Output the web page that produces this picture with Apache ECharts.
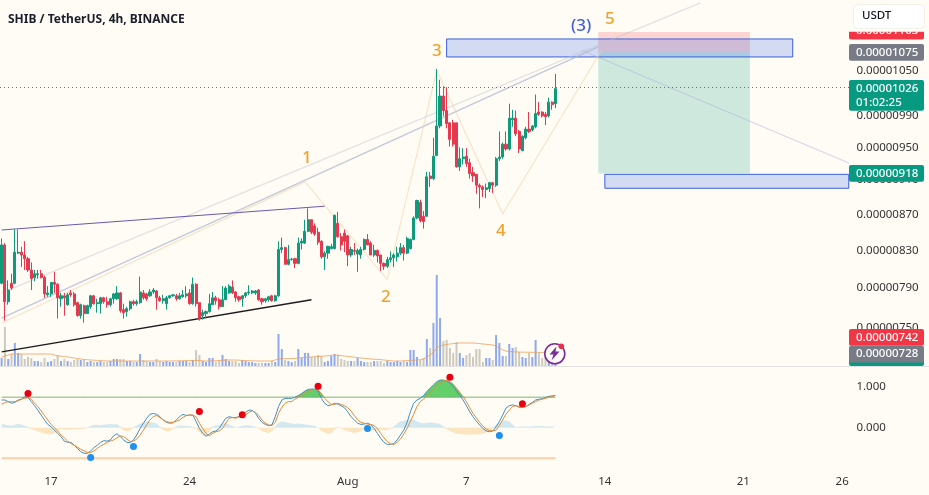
<!DOCTYPE html>
<html>
<head>
<meta charset="utf-8">
<style>
    html, body { margin: 0; padding: 0; background: #fffcf5; }
    #main { width: 929px; height: 495px; }
</style>
<script src="https://cdn.jsdelivr.net/npm/echarts@6/dist/echarts.min.js"></script>
</head>
<body>
<div id="main"></div>
<script>
// prices in units of 0.00000001 USDT, one entry per 4h candle
var opens = [
    795,836,776,795,795,827,828,825,821,809,
    801,804,805,801,783,784,796,794,779,782,
    773,785,784,775,762,772,764,771,782,774,
    774,780,776,773,779,779,785,768,766,769,
    776,774,775,785,784,782,786,787,780,777,
    774,780,782,782,779,781,782,785,774,794,
    775,762,764,766,773,780,778,771,778,785,
    791,786,781,779,782,785,785,785,788,779,
    777,778,782,777,782,831,833,815,820,821,
    816,838,838,851,864,857,850,840,823,827,
    832,832,860,845,849,846,825,830,826,825,
    831,842,838,825,830,825,816,813,820,822,
    823,827,833,827,832,842,866,884,868,868,
    915,912,940,977,1016,997,981,981,981,926,
    936,939,931,919,917,904,902,899,900,907,
    904,936,938,954,948,985,987,970,946,962,
    973,972,976,995,995,992,990,1008,1006
];
var closes = [
    836,776,788,790,828,828,825,821,809,800,
    805,805,801,784,785,796,794,780,782,780,
    783,783,773,762,773,764,772,782,774,775,
    780,776,773,779,784,785,767,765,769,776,
    774,776,786,780,779,786,788,780,777,779,
    780,782,783,779,782,783,784,774,794,774,
    759,765,766,774,780,777,771,778,790,792,
    785,780,778,782,785,786,787,787,778,776,
    779,781,777,782,831,833,815,820,820.5,816,
    838,840,851,864,850,848,839,823,827,834.5,
    834,869,845,836,840,825,831,829,830,831,
    842,836,825,830,824,816,813,820,822,825,
    827,833,827,843,842,866,886,863,862,914,
    912,939,977,1016,997,980,960,954,926,936,
    938,930,918,915,904,902,899,901,907,904,
    936,938,954,948,987,987,967,948,964,973,
    970,977,993,992,990,989,1008,1005,1026
];
var lows = [
    794,757,773,788,794,826,812,809,807,788,
    797,800,800,780,781,781,785,759,771,762,
    772,781,771,761,759,755,764,769,773,765,
    764,774,770,771,774,778,765,759,761,767,
    772,772,774,778,777,781,784,768,776,774,
    768,779,781,777,778,780,780,773,773,771,
    757,758,759,765,773,773,768,771,778,784,
    784,776,776,771,780,783,784,783,777,773,
    775,776,776,776,781,827,815,814,819,811,
    815,831,837,850,848,846,836,821,809,821,
    831,831,844,830,828,813,823,825,807,821,
    830,836,825,823,817,808,809,811,817,812,
    818,825,819,826,831,841,865,861,854,867,
    902,910,939,974,990,974,951,951,925,921,
    929,926,912,908,894,877,890,889,896,895,
    902,933,936,946,946,976,964,943,945,960,
    968,970,974,990,988,978,988,998,1000
];
var highs = [
    843,838,798,805,853,853,834,840,823,817,
    809,809,809,803,792,796,807,795,785,785,
    785,788,786,776,774,773,773,783,783,779,
    781,781,781,780,785,792,786,774,771,777,
    778,778,802,788,785,789,790,788,782,783,
    782,783,784,784,785,788,792,789,801,795,
    775,768,767,784,786,782,780,792,792,794,
    798,787,782,783,786,793,788,788,789,780,
    780,782,783,783,840,844,834,836,822,822,
    844,843,864,877,864,860,855,841,829,835,
    837,870,873,849,853,847,834,838,832,834,
    843,848,840,836,831,825,817,823,829,827,
    834,838,836,845,843,868,887,887,874,920,
    920,962,1053,1038,1029,1028,982,985,981,950,
    949,949,936,926,917,906,904,906,908,908,
    938,970,956,970,1006,998,997,972,965,976,
    995,978,1018,1008,996,995,1014,1009,1046
];
var volumes = [
    8,39,7,12,23,13,12,7,9,8,
    5,5,4,8,4,5,7,11,5,7,
    5,4,6,7,6,6,4,5,4,4,
    5,4,4,5,7,7,7,7,5,5,
    4,4,12,6,5,4,4,7,5,4,
    5,4,4,4,5,5,5,4,6,16,
    11,5,4,8,8,4,5,11,7,5,
    5,5,3,6,5,4,4,3,3,3,
    3,3,5,4,32,17,6,5,4,5,
    17,8,13,13,9,9,11,10,4,5,
    10,12,11,7,6,5,5,5,8,5,
    4,4,4,5,5,5,3,5,4,4,
    5,4,5,4,16,16,9,6,8,27,
    18,43,91,48,25,26,18,13,24,13,
    8,11,13,9,17,17,4,8,8,6,
    31,23,10,10,22,18,19,14,9,8,
    13,9,26,13,8,9,16,8,6
];
var volumeMa = [
    9,10,11,12,12,12,12,12,12,12,
    12,12,12,12,12,12,11,10,10,9.5,
    9,8.5,8,7.5,7,6.5,6.3,6,5.8,5.6,
    5.4,5.2,5,5,5,5,5,5,5,5,
    5,5,5,5,5,5,5,5,5,5,
    5,5,5.1,5.2,5.2,5.3,5.4,5.5,5.5,5.6,
    5.4,5.2,5,5,5.2,5.3,5.5,5.7,5.8,6,
    6,6,5.8,5.6,5.4,5.3,5.2,5.1,5,5,
    5,5,5,6,7,7.2,7.3,7.4,7.5,7.6,
    8,8.4,8.6,8.8,9,9.3,9.6,9.8,10,10.2,
    10.6,11,10.8,10.4,10,9.6,9.2,8.8,8.4,8,
    7.6,7.3,7,6.8,6.6,6.4,6,5.6,5.3,5,
    5,5,5.2,5.4,5.6,5.8,6,6.3,7,8.5,
    11,14,18,20,21,21.5,22,22.4,22.7,23,
    23,23,23,23,22.7,22.4,22,21.7,21.4,21,
    20,18,16,15,14.5,14.3,14,14,13.8,13.8,
    13.7,13.7,13.7,13.6,13.6,13.6,13.5,13.5,13.5
];
var oscFast = [
    .68,.68,.64,.60,.62,.68,.70,.76,.74,.64,
    .54,.43,.31,.19,.08,.02,-.06,-.14,-.22,-.33,
    -.36,-.36,-.43,-.51,-.59,-.63,-.63,-.57,-.49,-.43,
    -.36,-.32,-.33,-.30,-.20,-.15,-.22,-.30,-.36,-.37,
    -.30,-.18,-.02,.11,.23,.33,.35,.33,.27,.19,
    .13,.11,.12,.19,.27,.33,.30,.31,.31,.15,
    -.02,-.14,-.21,-.16,-.10,-.08,-.02,.11,.23,.27,
    .25,.25,.27,.31,.38,.43,.43,.35,.23,.13,
    .08,.05,.07,.27,.52,.68,.72,.72,.72,.75,
    .79,.84,.90,.94,.95,.95,.90,.72,.60,.54,
    .56,.60,.58,.54,.49,.39,.27,.19,.11,.08,
    .09,.11,.07,-.02,-.14,-.26,-.36,-.41,-.41,-.39,
    -.30,-.18,-.06,.13,.39,.60,.68,.72,.79,.89,
    .97,1.05,1.13,1.17,1.17,1.15,1.09,1.01,.90,.79,
    .68,.54,.39,.27,.16,.07,-.02,-.08,-.10,-.08,
    .02,.15,.31,.48,.54,.56,.54,.50,.50,.52,
    .57,.62,.68,.70,.71,.74,.77,.78,.79
];
var oscSlow = [
    .57,.62,.64,.64,.64,.66,.70,.72,.74,.70,
    .60,.52,.41,.30,.19,.08,0,-.08,-.18,-.25,
    -.33,-.39,-.43,-.48,-.53,-.57,-.61,-.61,-.57,-.51,
    -.45,-.41,-.36,-.33,-.30,-.25,-.20,-.22,-.28,-.34,
    -.33,-.28,-.18,-.06,.07,.19,.27,.30,.25,.19,
    .15,.13,.13,.16,.19,.25,.30,.31,.31,.27,
    .11,-.02,-.14,-.20,-.14,-.10,-.08,-.02,.11,.23,
    .25,.23,.27,.27,.31,.38,.41,.38,.30,.19,
    .11,.07,.05,.13,.35,.50,.60,.64,.64,.70,
    .75,.79,.84,.89,.93,.94,.93,.84,.72,.64,
    .57,.57,.60,.57,.54,.49,.41,.30,.19,.13,
    .11,.09,.08,.05,-.02,-.14,-.25,-.34,-.40,-.41,
    -.36,-.28,-.16,-.02,.15,.33,.52,.64,.70,.79,
    .87,.95,1.03,1.11,1.15,1.16,1.13,1.07,.97,.87,
    .76,.64,.49,.35,.25,.13,.04,-.03,-.07,-.08,
    -.06,.05,.19,.33,.43,.52,.54,.52,.50,.52,
    .56,.60,.64,.68,.70,.72,.75,.77,.79
];
var oscHist = [
    .09,.08,.06,.05,.07,.09,.08,.05,.02,-.03,
    -.06,-.09,-.12,-.14,-.16,-.16,-.14,-.08,-.04,-.04,
    -.05,-.05,-.04,-.04,-.03,-.03,.01,.04,.07,.07,
    .06,.07,.08,.09,.08,.09,.02,-.06,-.09,-.07,
    .01,.06,.1,.13,.16,.14,.12,.1,.03,-.05,
    -.09,-.09,-.02,.03,.06,.05,.04,.04,.02,-.03,
    -.12,-.18,-.2,-.08,.02,.06,.06,.1,.12,.08,
    .04,.01,.02,.05,.06,.06,.04,.02,-.02,-.08,
    -.11,-.13,-.08,.03,.12,.15,.14,.12,.1,.09,
    .1,.09,.08,.07,.06,.05,-.01,-.08,-.12,-.14,
    -.14,-.05,.02,-.02,-.06,-.09,-.11,-.13,-.11,-.08,
    -.04,-.03,-.06,-.06,-.05,-.04,-.06,-.05,-.02,.03,
    .1,.15,.17,.18,.2,.2,.16,.12,.11,.12,
    .13,.12,.11,.09,.03,-.03,-.08,-.12,-.14,-.16,
    -.17,-.17,-.17,-.17,-.17,-.16,-.15,-.12,-.08,-.02,
    .08,.13,.17,.18,.16,.08,.01,.02,.03,.03,
    .03,.03,.04,.04,.04,.03,.03,.03,.03
];
var sellDots = [[8,.84],[60,.40],[73,.32],[96,1.02],[136,1.24],[158,.59]];
var buyDots = [[27,-.73],[40,-.46],[111,-.02],[151,-.19]];

// bar index -> time axis label
var tickIdx = [15,57,105,141,183,225,255];
var tickText = ['17','24','Aug','7','14','21','26'];
var priceTicks = [750,790,830,870,910,950,990,1050];
var oscTicks = [0,1];

// drawings, [bar index, price]
var zigzag = [[0,754.6],[92,908],[117,799],[132,1051],[152,870.6],[182,1079]];
var channelTop = [[0,852.5],[98,879.5]];
var channelBottom = [[0,726.6],[94,778]];
var fanUpper = [[0,785],[212,1148]];
var fanLower = [[0,759.6],[181,1083.6]];
var fanDown = [[176,1079],[257,930.7]];

var tagStop = '0.00001103', tagEntry = '0.00001075', tagLast = '0.00001026', tagTimer = '01:02:25';
var tagTarget = '0.00000918', tagLow = '0.00000742', tagLower = '0.00000728';
var lastPrice = 1027.5;

var font = '"Noto Sans", sans-serif';
var barCount = 258;
var xCats = [];
for (var i = 0; i < barCount; i++) {
    xCats.push(String(i));
}

var candleData = [];
for (var k = 0; k < opens.length; k++) {
    candleData.push([opens[k], closes[k], lows[k], highs[k]]);
}
var volData = volumes.map(function (v, idx) {
    return {
        value: v,
        itemStyle: {color: closes[idx] >= opens[idx] ? 'rgba(72,118,232,0.62)' : 'rgba(150,146,130,0.48)'}
    };
});
var histUp = oscHist.map(function (v) { return v > 0 ? v : 0; });
var histDown = oscHist.map(function (v) { return v < 0 ? v : 0; });
var overBought = oscFast.map(function (v, idx) { return Math.max(0.75, v, oscSlow[idx]); });
var upperBand = oscFast.map(function () { return 0.75; });
var lowerBand = oscFast.map(function () { return -0.75; });

function drawing(data, color, width, xIdx, yIdx) {
    return {
        type: 'line', data: data, symbol: 'none', silent: true,
        xAxisIndex: xIdx || 0, yAxisIndex: yIdx || 0,
        lineStyle: {color: color, width: width}, z: 3
    };
}
function box(from, to, color, border) {
    return [{
        coord: from,
        itemStyle: {color: color, borderColor: border || 'transparent', borderWidth: border ? 1 : 0}
    }, {coord: to}];
}
function pill(y0, y1, color) {
    return {
        type: 'rect', left: 849, top: y0, z: 50,
        shape: {width: 75, height: y1 - y0, r: 2},
        style: {fill: color}
    };
}
function pillText(str, y, color, x) {
    return {
        type: 'text', left: x || 856, top: y - 8, z: 52,
        style: {text: str, fill: color || '#fff', font: '500 11.5px ' + font, lineHeight: 16}
    };
}
function note(str, x, y, color, size) {
    return {
        type: 'text', left: x, top: y - size * 0.68, z: 40,
        style: {text: str, fill: color, font: '500 ' + size + 'px ' + font}
    };
}

var myChart = echarts.init(document.getElementById('main'));
var option = {
    animation: false,
    backgroundColor: '#fffcf5',
    title: {
        text: 'SHIB / TetherUS, 4h, BINANCE',
        left: 3, top: 9,
        textStyle: {fontFamily: font, fontSize: 12, fontWeight: 'bold', color: '#1c1f2b'}
    },
    grid: [
        {left: -1, top: 0, width: 851.4, height: 366},
        {left: -1, top: 266, width: 851.4, height: 100},
        {left: -1, top: 367, width: 851.4, height: 100}
    ],
    xAxis: [
        {type: 'category', gridIndex: 0, data: xCats, show: false},
        {type: 'category', gridIndex: 1, data: xCats, show: false},
        {
            type: 'category', gridIndex: 2, data: xCats,
            axisLine: {show: false},
            axisTick: {show: false},
            axisLabel: {
                interval: function (idx) { return tickIdx.indexOf(idx) >= 0; },
                formatter: function (v, idx) { return tickText[tickIdx.indexOf(idx)]; },
                color: '#333', fontFamily: font, fontSize: 11.5, margin: 9
            }
        }
    ],
    yAxis: [
        {
            type: 'log', gridIndex: 0, position: 'right', min: 713.3, max: 1152.4,
            axisLine: {show: false}, axisTick: {show: false}, splitLine: {show: false},
            axisLabel: {
                customValues: priceTicks,
                formatter: function (v) { return (v / 1e8).toFixed(8); },
                color: '#333', fontFamily: font, fontSize: 11.5, margin: 6
            }
        },
        {type: 'value', gridIndex: 1, min: 0, max: 100, show: false},
        {
            type: 'value', gridIndex: 2, position: 'right', min: -0.966, max: 1.491,
            axisLine: {show: false}, axisTick: {show: false}, splitLine: {show: false},
            axisLabel: {
                customValues: oscTicks,
                formatter: function (v) { return v.toFixed(3); },
                color: '#333', fontFamily: font, fontSize: 11.5, margin: 6
            }
        }
    ],
    series: [
        {
            type: 'bar', name: 'Volume', data: volData, xAxisIndex: 1, yAxisIndex: 1,
            barWidth: 2, z: 1, silent: true
        },
        drawing(volumeMa, 'rgba(236,160,90,0.8)', 1, 1, 1),
        {
            type: 'line', name: 'zones', data: [], xAxisIndex: 0, yAxisIndex: 0, z: 1,
            markArea: {
                silent: true,
                data: [
                    box([181, 1105], [227, 1076], 'rgba(242,54,69,0.2)'),
                    box([181, 1076], [227, 918], 'rgba(8,153,129,0.2)'),
                    box([135, 1095], [240, 1069.5], 'rgba(30,90,230,0.2)', '#3a5fdc'),
                    box([183, 917], [257, 900.4], 'rgba(30,90,230,0.2)', '#3a5fdc')
                ]
            }
        },
        drawing(fanUpper, 'rgba(190,196,205,0.45)', 1.2),
        drawing(fanLower, 'rgba(170,180,205,0.7)', 1.4),
        drawing(fanDown, 'rgba(175,180,215,0.5)', 1.2),
        drawing(zigzag, 'rgba(240,205,160,0.5)', 1.2),
        drawing(channelTop, '#6a58b0', 1),
        drawing(channelBottom, '#1c1c1c', 1.3),
        {
            type: 'candlestick', name: 'SHIB', data: candleData, barWidth: 2.6, z: 4,
            itemStyle: {color: '#0f9a7c', color0: '#e6384f', borderColor: '#0f9a7c', borderColor0: '#e6384f', borderWidth: 1},
            markLine: {
                silent: true, symbol: 'none',
                label: {show: false},
                lineStyle: {color: '#0f9a7c', type: [1, 3], width: 1},
                data: [{yAxis: lastPrice}]
            }
        },
        {
            type: 'line', data: histUp, xAxisIndex: 2, yAxisIndex: 2, symbol: 'none', z: 1,
            lineStyle: {width: 0}, areaStyle: {color: '#d4e8ef', opacity: 1, origin: 0}
        },
        {
            type: 'line', data: histDown, xAxisIndex: 2, yAxisIndex: 2, symbol: 'none', z: 1,
            lineStyle: {width: 0}, areaStyle: {color: '#fbe4c0', opacity: 1, origin: 0}
        },
        {
            type: 'line', data: overBought, xAxisIndex: 2, yAxisIndex: 2, symbol: 'none', z: 2,
            lineStyle: {width: 0}, areaStyle: {color: '#62cf6a', opacity: 1, origin: 0.75}
        },
        drawing(upperBand, '#79b36f', 1, 2, 2),
        drawing(lowerBand, '#f8d7b0', 2.5, 2, 2),
        drawing(oscFast, '#3f90c8', 1, 2, 2),
        drawing(oscSlow, '#e78a35', 1, 2, 2),
        {
            type: 'scatter', data: sellDots, xAxisIndex: 2, yAxisIndex: 2, symbolSize: 7, z: 6,
            itemStyle: {color: '#e8000f', opacity: 1}
        },
        {
            type: 'scatter', data: buyDots, xAxisIndex: 2, yAxisIndex: 2, symbolSize: 7, z: 6,
            itemStyle: {color: '#1f8ff0', opacity: 1}
        }
    ],
    graphic: [
        // pane separator
        {type: 'rect', left: 0, top: 366, z: 30, shape: {width: 929, height: 1}, style: {fill: '#e2e2e2'}},

        // wave labels
        note('1', 302, 161, '#eea22f', 17),
        note('2', 381, 300, '#eea22f', 17),
        note('3', 432, 54, '#eea22f', 17),
        note('4', 496, 234, '#eea22f', 17),
        note('5', 605, 22, '#eea22f', 17),
        note('(3)', 571, 29, '#4262d8', 17),

        // bolt badge
        {type: 'circle', left: 544, top: 343, z: 41, shape: {r: 10}, style: {fill: '#fffcf5', stroke: '#7a2b9c', lineWidth: 1.6}},
        {
            type: 'polygon', x: 548.5, y: 346.5, z: 42,
            shape: {points: [[8,0],[1,8],[5,8],[3,14],[11,5],[7,5]]},
            style: {fill: '#7a2b9c'}
        },
        {type: 'circle', left: 558.5, top: 343.5, z: 43, shape: {r: 2.8}, style: {fill: '#e8304a'}},

        // price tags on the scale
        pill(23, 39.5, '#f23645'),
        pillText(tagStop, 31),
        {type: 'rect', left: 849, top: 0, z: 51, shape: {width: 80, height: 31.7}, style: {fill: '#fffcf5'}},
        {type: 'rect', left: 853, top: 4, z: 52, shape: {width: 71, height: 24, r: 4}, style: {fill: '#ffffff', stroke: '#f3f0e8', lineWidth: 1}},
        pillText('USDT', 16, '#131722', 862),
        pill(44, 60.7, '#787b86'),
        pillText(tagEntry, 52.5),
        pill(80, 110.7, '#089981'),
        pillText(tagLast, 88.5),
        pillText(tagTimer, 102.5),
        pill(165, 181.7, '#089981'),
        pillText(tagTarget, 173.5),
        pill(358, 366, '#089981'),
        pill(329, 345.7, '#f23645'),
        pillText(tagLow, 337.5),
        pill(345.7, 362.5, '#787b86'),
        pillText(tagLower, 354)
    ]
};
myChart.setOption(option);
</script>
</body>
</html>
